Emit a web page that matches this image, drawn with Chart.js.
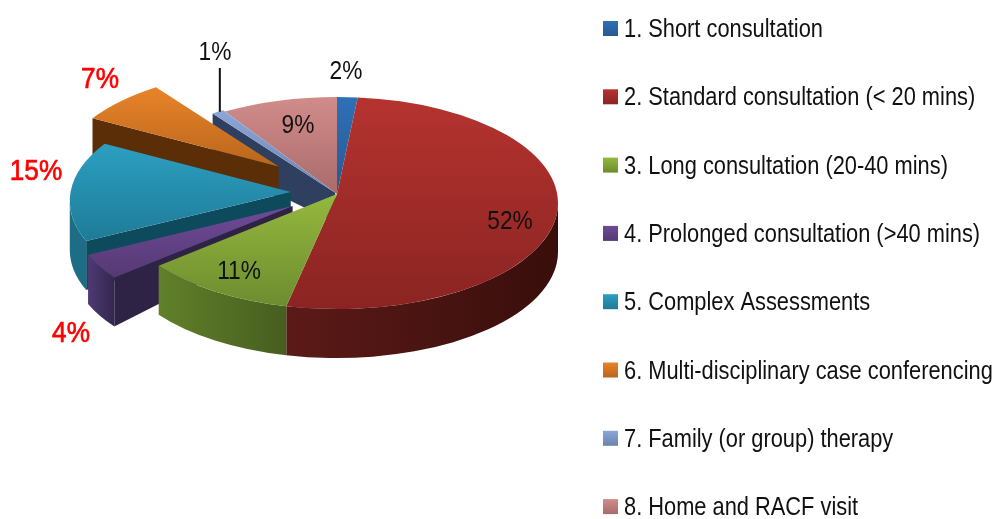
<!DOCTYPE html>
<html>
<head>
<meta charset="utf-8">
<title>Consultation types</title>
<style>
    html, body { margin: 0; padding: 0; background: #fff; }
    canvas { display: block; }
</style>
<script src="https://cdn.jsdelivr.net/npm/chart.js@4/dist/chart.umd.min.js"></script>
</head>
<body>
<canvas id="pieChart" width="996" height="519"></canvas>
<script>
const categories = [
    '1. Short consultation',
    '2. Standard consultation (< 20 mins)',
    '3. Long consultation (20-40 mins)',
    '4. Prolonged consultation (>40 mins)',
    '5. Complex Assessments',
    '6. Multi-disciplinary case conferencing',
    '7. Family (or group) therapy',
    '8. Home and RACF visit'
];
// they round to the printed percentages
const values = [1.5, 52.4, 11.3, 3.9, 15.3, 6.6, 0.9, 8.5];

// how far each slice is pulled out, as a share of the radius
const pull = [0, 0, 0, 0.23, 0.21, 0.37, 0.015, 0];

const topColors = ['#2f70b8', '#b5332f', '#95b83e', '#6f4b98', '#2c9fc1', '#e8842a', '#8ba7d8', '#d18c8a'];
const bottomColors = ['#27598f', '#8a2422', '#6d8c2f', '#553973', '#1f7b97', '#b9661c', '#6b82ae', '#a96b6b'];
const wallLeftColors = ['#1d3f68', '#5c1a18', '#61802a', '#4f3a74', '#1c6d85', '#5c2e08', '#2f3f5f', '#7d4d4c'];
const wallRightColors = ['#1d3f68', '#380e0b', '#465e1f', '#33264e', '#1c6d85', '#5c2e08', '#2f3f5f', '#7d4d4c'];
const cutColors = ['#1d3f68', '#5c1a18', '#47601f', '#2f2345', '#0d4a5c', '#5c2e08', '#2f3f5f', '#7d4d4c'];
const labelColors = ['#111', '#111', '#111', '#ff0000', '#ff0000', '#ff0000', '#111', '#111'];
const labelSpots = [[346, 72], [510, 222], [239, 272], [71, 334], [36, 172], [100, 80], [215, 53], [298, 126]];

const TILT = 0.48;       // flattening of the circle
const LIFT = 56;         // ellipse centre sits above the chart area centre
const DEPTH = 49;        // height of the outer wall
const APEX_UP = 9;       // the apex looks higher than the ellipse centre (perspective)
const APEX_DEPTH = 30;   // wall height at the apex, mostly hidden by the next slice
const SQUEEZE = 0.873;   // the reference font is a narrow one, none is installed

const fontName = '"Liberation Sans", sans-serif';

function sliceGeometry(el, i) {
    const rx = el.outerRadius;
    const ry = rx * TILT;
    const mid = (el.startAngle + el.endAngle) / 2;
    return {
        rx: rx,
        ry: ry,
        cx: el.x + Math.cos(mid) * pull[i] * rx,
        cy: el.y - LIFT + Math.sin(mid) * pull[i] * ry,
        start: el.startAngle,
        end: el.endAngle,
        mid: mid
    };
}

function narrowText(ctx, text, x, y) {
    ctx.fillText(text, x, y, ctx.measureText(text).width * SQUEEZE);
}

function drawCutWall(ctx, g, i) {
    const x = g.cx + Math.cos(g.start) * g.rx;
    const y = g.cy + Math.sin(g.start) * g.ry;
    ctx.beginPath();
    ctx.moveTo(x, y);
    ctx.lineTo(x, y + DEPTH);
    ctx.lineTo(g.cx, g.cy - APEX_UP + APEX_DEPTH);
    ctx.lineTo(g.cx, g.cy - APEX_UP);
    ctx.closePath();
    ctx.fillStyle = cutColors[i];
    ctx.fill();
}

function drawOuterWall(ctx, g, i) {
    // only the part of the rim facing the viewer
    const from = Math.max(g.start, 0);
    const to = Math.min(g.end, Math.PI);
    if (to <= from) return;

    const x0 = g.cx + Math.cos(from) * g.rx;
    const x1 = g.cx + Math.cos(to) * g.rx;
    const shade = ctx.createLinearGradient(x1, 0, x0, 0);
    shade.addColorStop(0, wallLeftColors[i]);
    shade.addColorStop(1, wallRightColors[i]);

    ctx.beginPath();
    ctx.ellipse(g.cx, g.cy, g.rx, g.ry, 0, from, to);
    ctx.ellipse(g.cx, g.cy + DEPTH, g.rx, g.ry, 0, to, from, true);
    ctx.closePath();
    ctx.fillStyle = shade;
    ctx.fill();
}

function drawTop(ctx, g, i) {
    const ys = [g.cy - APEX_UP];
    for (let a = g.start; a < g.end; a += 0.05) {
        ys.push(g.cy + Math.sin(a) * g.ry);
    }
    ys.push(g.cy + Math.sin(g.end) * g.ry);
    const shade = ctx.createLinearGradient(0, Math.min(...ys), 0, Math.max(...ys));
    shade.addColorStop(0, topColors[i]);
    shade.addColorStop(1, bottomColors[i]);

    ctx.beginPath();
    ctx.moveTo(g.cx, g.cy - APEX_UP);
    ctx.ellipse(g.cx, g.cy, g.rx, g.ry, 0, g.start, g.end);
    ctx.closePath();
    ctx.fillStyle = shade;
    ctx.fill();
}

// Chart.js only does flat arcs, so the arcs it computed are painted as a tilted 3D pie
const pie3d = {
    id: 'pie3d',
    beforeDatasetsDraw(chart) {
        const ctx = chart.ctx;
        const arcs = chart.getDatasetMeta(0).data;
        const order = arcs.map((el, i) => ({ i: i, g: sliceGeometry(el, i) }));
        order.sort((a, b) => Math.sin(a.g.mid) - Math.sin(b.g.mid));

        ctx.save();
        order.forEach(item => {
            if (pull[item.i] > 0) drawCutWall(ctx, item.g, item.i);
            drawOuterWall(ctx, item.g, item.i);
            drawTop(ctx, item.g, item.i);
        });
        ctx.restore();
        return false;
    },
    afterDraw(chart) {
        const ctx = chart.ctx;
        const arcs = chart.getDatasetMeta(0).data;
        ctx.save();
        ctx.textBaseline = 'middle';
        ctx.textAlign = 'center';

        // percentages, the red ones are a bit heavier
        values.forEach((v, i) => {
            const isRed = labelColors[i] === '#ff0000';
            const text = Math.round(v) + '%';
            ctx.font = (isRed ? '30px ' : '26px ') + fontName;
            ctx.fillStyle = labelColors[i];
            narrowText(ctx, text, labelSpots[i][0], labelSpots[i][1]);
            if (isRed) {
                ctx.strokeStyle = labelColors[i];
                ctx.lineWidth = 0.7;
                ctx.strokeText(text, labelSpots[i][0], labelSpots[i][1], ctx.measureText(text).width * SQUEEZE);
            }
        });

        // leader line of the 1% slice
        const g = sliceGeometry(arcs[6], 6);
        const tipX = g.cx + Math.cos(g.mid) * g.rx + 2;
        const tipY = g.cy + Math.sin(g.mid) * g.ry;
        ctx.beginPath();
        ctx.moveTo(tipX, labelSpots[6][1] + 15);
        ctx.lineTo(tipX, tipY);
        ctx.lineWidth = 2;
        ctx.strokeStyle = '#111';
        ctx.stroke();

        // legend, the built in one cannot keep these wide rows in a single column
        ctx.textAlign = 'left';
        ctx.textBaseline = 'alphabetic';
        ctx.font = '25px ' + fontName;
        categories.forEach((name, i) => {
            const y = 21 + i * 68.3;
            const shade = ctx.createLinearGradient(0, y, 0, y + 15);
            shade.addColorStop(0, topColors[i]);
            shade.addColorStop(1, bottomColors[i]);
            ctx.fillStyle = shade;
            ctx.fillRect(603, y, 15, 15);
            ctx.fillStyle = '#111';
            narrowText(ctx, name, 624, y + 16);
        });
        ctx.restore();
    }
};

new Chart(document.getElementById('pieChart').getContext('2d'), {
    type: 'pie',
    data: {
        labels: categories,
        datasets: [{
            data: values,
            backgroundColor: topColors,
            borderWidth: 0
        }]
    },
    options: {
        responsive: false,
        animation: false,
        layout: {
            padding: { left: 116, right: 438, top: 38, bottom: 39 }
        },
        plugins: {
            legend: { display: false },
            tooltip: { enabled: false }
        }
    },
    plugins: [pie3d]
});
</script>
</body>
</html>
